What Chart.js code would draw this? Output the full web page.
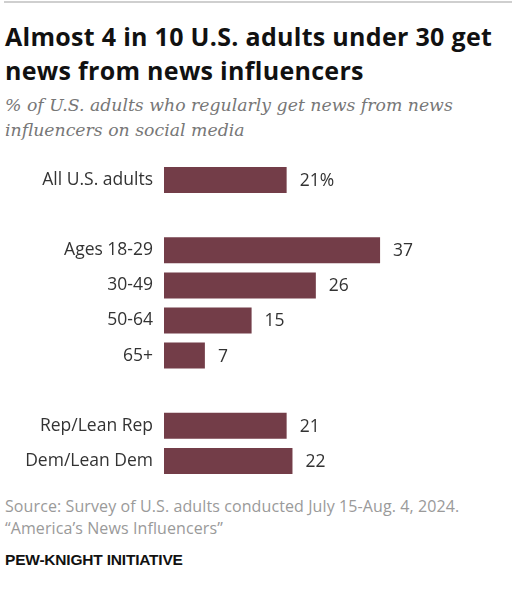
<!DOCTYPE html>
<html>
<head>
<meta charset="utf-8">
<script src="https://cdn.jsdelivr.net/npm/chart.js@4"></script>
<style>
  body { margin: 0; background: #fff; width: 518px; height: 593px; position: relative; overflow: hidden; }
  .topline { position: absolute; left: 4px; top: 1px; width: 508px; height: 2px; background: #cfcfcf; }
  h1 { position: absolute; left: 5px; top: 19px; margin: 0; font: bold 25px/34px "Open Sans", "Liberation Sans", sans-serif; color: #111; letter-spacing: 0.3px; }
  .sub { position: absolute; left: 5px; top: 93px; margin: 0; font: italic 17.3px/25px "DejaVu Serif", Georgia, serif; color: #777; }
  .src { position: absolute; left: 5px; top: 495px; font: 16px/22px "Open Sans", "Liberation Sans", sans-serif; letter-spacing: 0.1px; color: #9a9a9a; }
  .brand { position: absolute; left: 5px; top: 551px; font: bold 15.5px "Liberation Sans", Arial, sans-serif; letter-spacing: -0.2px; color: #111; }
  #wrap { position: absolute; left: 0; top: 150px; width: 518px; height: 340px; }
</style>
</head>
<body>
<div class="topline"></div>
<h1>Almost 4 in 10 U.S. adults under 30 get<br>news from news influencers</h1>
<p class="sub">% of U.S. adults who regularly get news from news<br>influencers on social media</p>
<div id="wrap"><canvas id="chart"></canvas></div>
<div class="src">Source: Survey of U.S. adults conducted July 15-Aug. 4, 2024.<br>“America’s News Influencers”</div>
<div class="brand">PEW-KNIGHT INITIATIVE</div>
<script>
const categories = ['All U.S. adults', '', 'Ages 18-29', '30-49', '50-64', '65+', '', 'Rep/Lean Rep', 'Dem/Lean Dem'];
const values = [21, null, 37, 26, 15, 7, null, 21, 22];
const valueLabels = ['21%', '', '37', '26', '15', '7', '', '21', '22'];

const barColor = '#733d48';
const labelFont = '"Open Sans", "Liberation Sans", sans-serif';

// etiquetas de valor al final de cada barra
const valorPlugin = {
  id: 'valores',
  afterDatasetsDraw(chart) {
    const ctx = chart.ctx;
    const meta = chart.getDatasetMeta(0);
    ctx.save();
    ctx.font = '17.5px ' + labelFont;
    ctx.fillStyle = '#333';
    ctx.textAlign = 'left';
    ctx.textBaseline = 'middle';
    meta.data.forEach((bar, i) => {
      if (values[i] == null) return;
      ctx.fillText(valueLabels[i], bar.x + 13, bar.y + 1);
    });
    ctx.restore();
  }
};

new Chart(document.getElementById('chart'), {
  type: 'bar',
  data: {
    labels: categories,
    datasets: [{
      data: values,
      backgroundColor: barColor,
      barPercentage: 0.74,
      categoryPercentage: 1
    }]
  },
  options: {
    indexAxis: 'y',
    responsive: true,
    maintainAspectRatio: false,
    animation: false,
    layout: { padding: { left: 0, right: 62, top: 12.5, bottom: 11.5 } },
    plugins: {
      legend: { display: false },
      title: { display: false },
      tooltip: { enabled: false }
    },
    scales: {
      x: {
        display: false,
        min: 0,
        max: 50
      },
      y: {
        afterFit: s => {
          s.width = 164;
          s.paddingTop = 0;
          s.paddingBottom = 0;
        },
        grid: { display: false, drawTicks: false },
        border: { display: false },
        ticks: {
          padding: 11,
          color: '#333',
          font: { size: 17.5, family: labelFont }
        }
      }
    }
  },
  plugins: [valorPlugin]
});
</script>
</body>
</html>
